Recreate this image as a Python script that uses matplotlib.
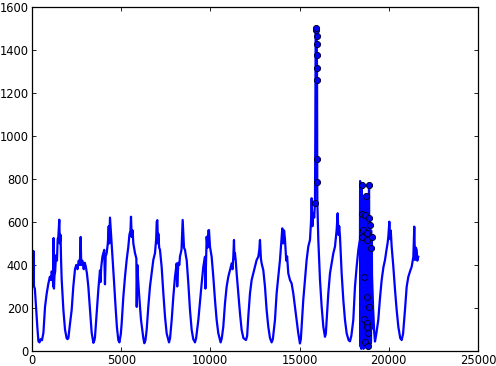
import matplotlib
matplotlib.use("Agg")
import matplotlib.pyplot as plt

# ---- main series (minute index, value) ----
t = [0, 30, 60, 80, 110, 160, 230, 300, 360, 420, 480, 560, 640, 730, 820, 910, 1000, 1060, 1100, 1150,
     1190, 1210, 1230, 1260, 1300, 1345, 1400, 1440, 1475, 1530, 1560, 1600, 1630, 1665, 1710, 1760, 1850, 1940, 1990,
     2040, 2120, 2223, 2316, 2410, 2480, 2550, 2620, 2680, 2728, 2760, 2820, 2900, 2960, 3020, 3080, 3157, 3251, 3344, 3440, 3500,
     3531, 3625, 3718, 3811, 3840, 3880, 3950, 4050, 4090, 4130, 4186, 4250, 4300, 4330, 4372, 4450, 4520, 4600, 4680, 4760, 4840, 4900,
     4980, 5026, 5120, 5213, 5306, 5400, 5460, 5520, 5549, 5590, 5640, 5680, 5773, 5850, 5870, 5905, 5950, 5997, 6109, 6240, 6296, 6360,
     6427, 6520, 6614, 6707, 6800, 6894, 6960, 6990, 7025, 7060, 7081, 7130, 7174, 7268, 7361, 7455, 7548, 7679, 7740,
     7830, 7922, 8015, 8109, 8140, 8203, 8260, 8296, 8380, 8446, 8483, 8520, 8576, 8630, 8670, 8763, 8856, 8950, 9040, 9137, 9200,
     9324, 9417, 9510, 9603, 9697, 9720, 9790, 9840, 9883, 9921, 9977, 10070, 10163, 10257, 10350, 10444, 10574, 10640,
     10723, 10817, 10910, 11004, 11097, 11191, 11240, 11284, 11322, 11350, 11378, 11420, 11471, 11564, 11658, 11751, 11850, 11995, 12060,
     12124, 12219, 12312, 12404, 12499, 12592, 12685, 12740, 12779, 12830, 12872, 12965, 13059, 13152, 13245, 13340, 13432, 13500,
     13619, 13712, 13806, 13900, 13993, 14030, 14080, 14130, 14180, 14250, 14300, 14366, 14460, 14553, 14646, 14740, 14833, 14926, 15020, 15070,
     15113, 15206, 15300, 15394, 15487, 15581, 15640, 15675, 15720, 15768, 15820, 15862, 15880, 15900, 15935, 15945,
     15955, 15962, 15968, 15975, 15980, 15985, 15990, 15995, 16012, 16049, 16143, 16236, 16330, 16422, 16470,
     16516, 16609, 16703, 16797, 16890, 16983, 17077, 17133, 17180, 17220, 17264, 17357, 17451, 17544, 17638, 17750, 17824, 17900,
     18010, 18104, 18198, 18291, 18384,
     18392, 18400, 18410, 18420, 18430, 18440, 18450, 18460, 18470, 18475, 18480, 18483, 18495, 18505, 18515, 18525, 18535, 18545,
     18558, 18565, 18575, 18585, 18595, 18605, 18615, 18625, 18633, 18640, 18652, 18665, 18675, 18685, 18695, 18708, 18718, 18730,
     18740, 18750, 18764, 18770, 18780, 18790, 18801, 18805, 18815, 18830, 18840, 18850, 18858, 18865, 18877, 18885, 18895, 18900,
     18910, 18920, 18930, 18940, 18950, 18960, 18970, 18980, 18990, 19000, 19010, 19020, 19030, 19045,
     19060, 19120, 19180, 19226, 19300,
     19410, 19500, 19600, 19700, 19787, 19870, 19930, 19974, 20030, 20080, 20110, 20161, 20254, 20348, 20441, 20535, 20640, 20722, 20800,
     20906, 21002, 21095, 21190, 21283, 21340, 21376, 21428, 21469, 21520, 21563, 21600, 21650]
v = [300, 420, 310, 465, 300, 290, 200, 110, 45, 40, 55, 50, 85, 205, 265, 310, 345, 330, 370, 360,
     300, 525, 290, 350, 370, 445, 420, 520, 530, 610, 500, 540, 420, 330, 260, 190, 100, 60, 55,
     60, 120, 190, 300, 380, 400, 380, 420, 400, 530, 400, 420, 380, 410, 390, 360, 300, 190, 85, 38, 50,
     65, 175, 285, 375, 320, 390, 440, 470, 310, 440, 455, 500, 580, 500, 620, 520, 430, 320, 210, 110, 50, 40,
     80, 128, 252, 345, 423, 485, 540, 560, 624, 530, 560, 500, 455, 430, 205, 400, 330, 270, 145, 60, 36, 50,
     98, 206, 300, 360, 423, 455, 520, 600, 608, 500, 545, 480, 470, 390, 270, 160, 82, 40, 60,
     144, 252, 345, 407, 300, 410, 400, 440, 470, 609, 540, 480, 470, 440, 423, 314, 190, 98, 55, 40, 60,
     144, 230, 314, 392, 438, 290, 531, 480, 560, 562, 485, 438, 345, 237, 144, 82, 40, 60,
     113, 221, 299, 345, 376, 407, 380, 438, 516, 430, 454, 420, 361, 268, 175, 98, 60, 51, 70,
     160, 268, 330, 361, 392, 423, 438, 470, 516, 430, 407, 376, 299, 190, 113, 60, 40, 55,
     144, 268, 345, 423, 531, 570, 500, 560, 520, 420, 440, 361, 330, 314, 268, 206, 144, 82, 35, 55,
     113, 237, 330, 423, 485, 516, 600, 710, 580, 640, 620, 687, 1000, 1500, 1501, 1490,
     1465, 1428, 1377, 1315, 1260, 892, 786, 690, 640, 516, 330, 206, 113, 66, 80,
     144, 268, 361, 407, 454, 485, 563, 640, 540, 580, 532, 361, 237, 144, 82, 50, 45, 70,
     144, 299, 392, 469, 520,
     790, 40, 600, 20, 700, 60, 560, 10, 772, 637, 30, 532, 250, 700, 15, 600, 80, 500,
     563, 30, 680, 10, 150, 720, 40, 580, 343, 43, 633, 20, 560, 90, 650, 718, 30, 600,
     15, 520, 547, 128, 113, 650, 516, 249, 700, 23, 600, 40, 82, 650, 206, 740, 771, 617,
     20, 560, 50, 600, 585, 30, 520, 60, 478, 40, 560, 100, 480, 532,
     350, 200, 90, 44, 80,
     144, 240, 330, 390, 423, 470, 500, 531, 601, 520, 560, 485, 392, 284, 190, 113, 60, 51, 80,
     190, 299, 345, 370, 392, 420, 438, 578, 423, 480, 469, 420, 438]

# ---- flagged points drawn as circles ----
flag_t = [15862, 15990, 15985, 15980, 15975, 15968, 15962, 15955, 15945, 15935,
          18470, 18475, 18483, 18558, 18595, 18633, 18640, 18652, 18708, 18764, 18770,
          18780, 18801, 18805, 18830, 18858, 18877, 18895, 18900, 18950, 18990, 19045]
flag_v = [687, 786, 892, 1260, 1315, 1377, 1428, 1465, 1490, 1501,
          772, 637, 532, 563, 150, 343, 43, 633, 718, 547, 128,
          113, 516, 249, 23, 82, 206, 771, 617, 585, 478, 532]

x_ticks = [0, 5000, 10000, 15000, 20000, 25000]
y_ticks = [0, 200, 400, 600, 800, 1000, 1200, 1400, 1600]

plt.rcParams['font.family'] = ['DejaVu Sans']
plt.rcParams['font.size'] = 8.3

fig = plt.figure(figsize=(4.96, 3.66), dpi=100)
ax = fig.add_axes([32/496, 15/366, 446/496, 344.3/366])

ax.plot(t, v, color='#0000ff', linewidth=1.6, zorder=2)
ax.plot(flag_t, flag_v, linestyle='none', marker='o', markersize=4.4,
        markerfacecolor='#0000ff', markeredgecolor='#000033', markeredgewidth=0.7, zorder=3)

ax.set_xlim(0, 25000)
ax.set_ylim(0, 1600)
ax.set_xticks(x_ticks)
ax.set_yticks(y_ticks)
ax.set_xticklabels([str(x) for x in x_ticks])
ax.set_yticklabels([str(y) for y in y_ticks])
ax.tick_params(direction='in', length=3, width=0.6, pad=2.5, top=True, right=True, labelsize=8.3)
for s in ax.spines.values():
    s.set_linewidth(0.9)
    s.set_color('black')

fig.savefig('out.png', dpi=100)
